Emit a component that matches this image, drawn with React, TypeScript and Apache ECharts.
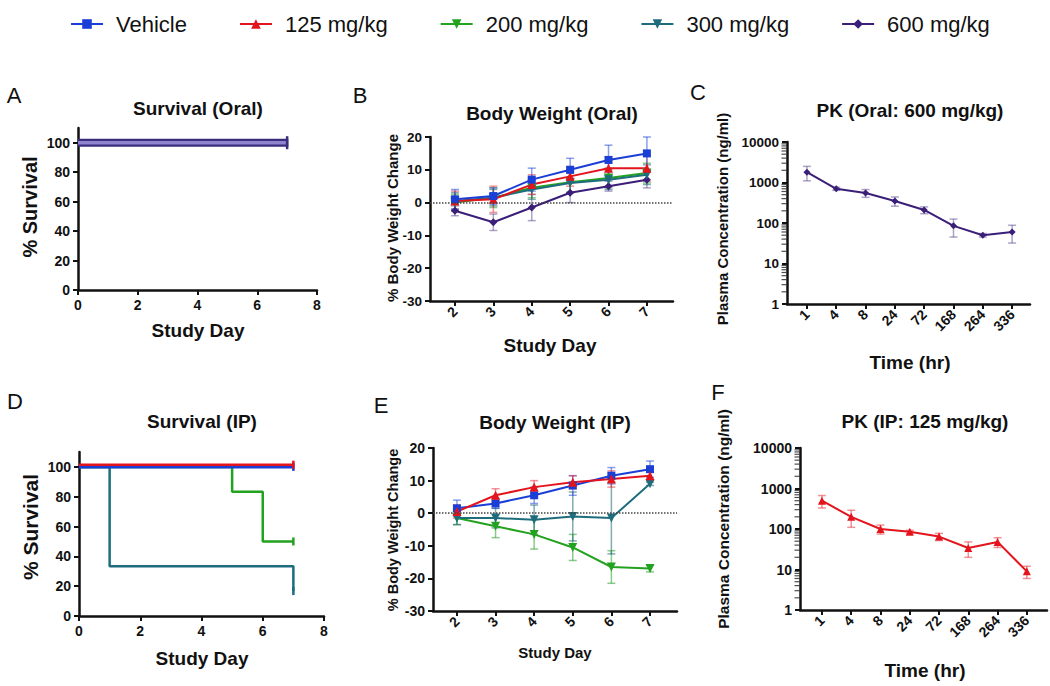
import React, { useEffect, useRef } from "react";
import * as echarts from "echarts";

const FONT = "'Liberation Sans', Arial, Helvetica, sans-serif";

// ---------- categories ----------
const groups = ["Vehicle", "125 mg/kg", "200 mg/kg", "300 mg/kg", "600 mg/kg"];
const groupColors = ["#1b3fd6", "#e3141c", "#22a21f", "#1e6d7d", "#3a1e78"];
const errColors = ["rgba(40,80,220,0.55)", "rgba(230,40,50,0.5)", "rgba(40,160,40,0.55)", "rgba(30,100,115,0.55)", "rgba(70,50,130,0.45)"];
const days = [2, 3, 4, 5, 6, 7];
const times = ["1", "4", "8", "24", "72", "168", "264", "336"];
const survTicks = [0, 20, 40, 60, 80, 100];
const bwTicks = [-30, -20, -10, 0, 10, 20];
const logMinor = [2, 3, 4, 5, 6, 7, 8, 9, 20, 30, 40, 50, 60, 70, 80, 90, 200, 300, 400, 500, 600, 700, 800, 900, 2000, 3000, 4000, 5000, 6000, 7000, 8000, 9000];
const survDayTicks = [0, 2, 4, 6, 8];

// ---------- A: survival (oral) ----------
const survOralDays = [0, 7];
const survOralVehicle = [100, 100];
const survOral125 = [100, 100];
const survOral200 = [100, 100];
const survOral300 = [100, 100];
const survOral600 = [100, 100];

// ---------- B: body weight (oral) ----------
const bwOralVehicle = [1, 2, 7, 10, 13, 15];
const bwOralVehicleErr = [3, 2.5, 3.5, 3.5, 4.5, 5];
const bwOral125 = [0.5, 1, 5.5, 8, 10.5, 10.5];
const bwOral125Err = [3, 4, 3, 3, 3.5, 4];
const bwOral200 = [0, 1.5, 4.5, 6.2, 7.5, 9];
const bwOral200Err = [2.5, 3, 3, 3, 3, 3];
const bwOral300 = [0.5, 1.5, 4, 6, 7, 8.5];
const bwOral300Err = [2.5, 2.5, 3, 3, 3, 3];
const bwOral600 = [-2.5, -6, -1.5, 3, 5, 7];
const bwOral600Err = [1.5, 2.5, 4, 3, 1.5, 2.5];

// ---------- C: PK (oral 600 mg/kg) ----------
const pkOral = [1800, 700, 550, 350, 210, 85, 50, 60];
const pkOralSd = [700, 60, 120, 90, 40, 40, 5, 28];

// ---------- D: survival (IP) ----------
const survIpVehicleDays = [0, 7];
const survIpVehicle = [100, 100];
const survIp125Days = [0, 7];
const survIp125 = [101.5, 101.5];
const survIp200Days = [0, 5, 6, 7];
const survIp200 = [100, 83.3, 50, 50];
const survIp300Days = [0, 1, 7];
const survIp300 = [100, 33.3, 16.7];

// ---------- E: body weight (IP) ----------
const bwIpVehicle = [1.5, 3, 5.5, 8.5, 11.5, 13.5];
const bwIpVehicleErr = [2.5, 1.5, 2.5, 3, 2.5, 2.5];
const bwIp125 = [0.5, 5.5, 8, 9.5, 10.5, 11.5];
const bwIp125Err = [2, 2, 2, 2, 2.5, 1.5];
const bwIp200 = [-1.5, -4, -6.5, -10.5, -16.5, -17];
const bwIp200Err = [2, 3.5, 4.5, 4, 5, 1];
const bwIp300 = [-1.5, -1.5, -2, -1, -1.5, 9];
const bwIp300Err = [2, 3, 4.5, 7.5, 11, 0.5];

// ---------- F: PK (IP 125 mg/kg) ----------
const pkIp = [500, 200, 100, 85, 65, 34, 48, 9];
const pkIpSd = [170, 90, 25, 8, 13, 14, 13, 3];

const zip = (xs: number[], ys: number[]) => xs.map((x, i) => [x, ys[i]]);
const errData = (xs: number[], ys: number[], es: number[]) => xs.map((x, i) => [x, ys[i] - es[i], ys[i] + es[i]]);
const idx = times.map((_, i) => i);

function errSeries(xi: number, yi: number, data: number[][], color: string, capW = 4) {
  return {
    type: "custom",
    xAxisIndex: xi,
    yAxisIndex: yi,
    z: 1,
    silent: true,
    data,
    encode: { x: 0, y: [1, 2] },
    renderItem: (params: any, api: any) => {
      const x = api.value(0);
      const lo = api.value(1);
      const hi = api.value(2);
      const a = api.coord([x, hi]);
      const b = api.coord([x, lo]);
      const st = { stroke: color, lineWidth: 1.5 };
      return {
        type: "group",
        children: [
          { type: "line", shape: { x1: a[0], y1: a[1], x2: b[0], y2: b[1] }, style: st },
          { type: "line", shape: { x1: a[0] - capW, y1: a[1], x2: a[0] + capW, y2: a[1] }, style: st },
          { type: "line", shape: { x1: b[0] - capW, y1: b[1], x2: b[0] + capW, y2: b[1] }, style: st },
        ],
      };
    },
  };
}

// minor ticks of a log axis: tiny marks placed through the axis scale
function minorTickSeries(xi: number, yi: number, xMin: number) {
  return {
    type: "scatter",
    xAxisIndex: xi,
    yAxisIndex: yi,
    z: 10,
    silent: true,
    clip: false,
    data: logMinor.map((v) => [xMin, v]),
    symbol: "rect",
    symbolSize: [5, 1.2],
    symbolOffset: [-3, 0],
    itemStyle: { color: "#222" },
  };
}

const symbols = ["rect", "triangle", "triangle", "triangle", "diamond"];
const symRot = [0, 0, 180, 180, 0];
const symSize = [8, 9, 9, 9, 8];

function lineSeries(g: number, xi: number, yi: number, data: number[][], extra: any = {}) {
  return {
    type: "line",
    name: groups[g],
    xAxisIndex: xi,
    yAxisIndex: yi,
    data,
    symbol: symbols[g],
    symbolRotate: symRot[g],
    symbolSize: symSize[g],
    itemStyle: { color: groupColors[g] },
    lineStyle: { color: groupColors[g], width: 2 },
    z: 3,
    ...extra,
  };
}

function survSeries(g: number, xi: number, yi: number, data: number[][], color: string, width: number, tick: number[], name?: string) {
  const n = data.length;
  return {
    type: "line",
    name: name ?? groups[g],
    xAxisIndex: xi,
    yAxisIndex: yi,
    data,
    step: "end",
    symbol: "rect",
    symbolSize: (_v: any, p: any) => (p.dataIndex === n - 1 ? tick : 0),
    itemStyle: { color },
    lineStyle: { color, width },
    z: 3,
  };
}

const axisBase = (fontSize: number) => ({
  axisLine: { show: true, onZero: false, lineStyle: { color: "#111", width: 2.5 } },
  axisTick: { show: true, length: 5, lineStyle: { color: "#111", width: 2 } },
  axisLabel: { color: "#111", fontWeight: "bold", fontSize, fontFamily: FONT },
  splitLine: { show: false },
});

function mergeAxis(base: any, over: any) {
  return {
    ...base,
    ...over,
    axisLine: { ...base.axisLine, ...(over.axisLine || {}) },
    axisTick: { ...base.axisTick, ...(over.axisTick || {}) },
    axisLabel: { ...base.axisLabel, ...(over.axisLabel || {}) },
  };
}

function txt(text: string, x: number, y: number, size: number, weight = "bold", rot = 0) {
  return {
    type: "text",
    x,
    y,
    rotation: rot,
    silent: true,
    style: {
      text,
      font: `${weight} ${size}px ${FONT}`,
      fill: "#111",
      textAlign: "center",
      textVerticalAlign: "middle",
      align: "center",
      verticalAlign: "middle",
    },
  };
}

export default function App() {
  const ref = useRef<HTMLDivElement>(null);
  useEffect(() => {
    if (!ref.current) return;
    const chart = echarts.init(ref.current, null, { renderer: "svg" });

    const grids = [
      { left: 78, top: 128, width: 239, height: 162 },
      { left: 430, top: 137, width: 243, height: 164 },
      { left: 787, top: 142, width: 243, height: 162 },
      { left: 79, top: 452, width: 245, height: 164 },
      { left: 433, top: 448, width: 244, height: 163 },
      { left: 800, top: 448, width: 247, height: 162 },
    ];

    const cMin = -0.68;
    const fMin = -0.75;
    const xAxes = [
      mergeAxis(axisBase(14), { type: "value", gridIndex: 0, min: 0, max: 8, interval: 2, axisLabel: { customValues: survDayTicks }, axisTick: { customValues: survDayTicks } }),
      mergeAxis(axisBase(14), { type: "value", gridIndex: 1, min: 1.35, max: 7.68, axisLabel: { customValues: days, rotate: 45 }, axisTick: { customValues: days } }),
      mergeAxis(axisBase(14), { type: "value", gridIndex: 2, min: cMin, max: 7.61, axisLabel: { customValues: idx, rotate: 45, formatter: (v: number) => times[Math.round(v)] ?? "" }, axisTick: { customValues: idx } }),
      mergeAxis(axisBase(14), { type: "value", gridIndex: 3, min: 0, max: 8, interval: 2, axisLabel: { customValues: survDayTicks }, axisTick: { customValues: survDayTicks } }),
      mergeAxis(axisBase(14), { type: "value", gridIndex: 4, min: 1.38, max: 7.7, axisLabel: { customValues: days, rotate: 45 }, axisTick: { customValues: days } }),
      mergeAxis(axisBase(14), { type: "value", gridIndex: 5, min: fMin, max: 7.69, axisLabel: { customValues: idx, rotate: 45, formatter: (v: number) => times[Math.round(v)] ?? "" }, axisTick: { customValues: idx } }),
    ];

    const logFmt = (v: number) => String(Math.round(v));
    const yAxes = [
      mergeAxis(axisBase(14), { type: "value", gridIndex: 0, min: 0, max: 110, axisLabel: { customValues: survTicks }, axisTick: { customValues: survTicks } }),
      mergeAxis(axisBase(13.5), { type: "value", gridIndex: 1, min: -30, max: 20, interval: 10, axisLabel: { customValues: bwTicks }, axisTick: { customValues: bwTicks } }),
      mergeAxis(axisBase(13.5), { type: "log", logBase: 10, gridIndex: 2, min: 1, max: 10000, splitNumber: 4, axisLabel: { formatter: logFmt } }),
      mergeAxis(axisBase(14), { type: "value", gridIndex: 3, min: 0, max: 110, axisLabel: { customValues: survTicks }, axisTick: { customValues: survTicks } }),
      mergeAxis(axisBase(14), { type: "value", gridIndex: 4, min: -30, max: 20, interval: 10, axisLabel: { customValues: bwTicks }, axisTick: { customValues: bwTicks } }),
      mergeAxis(axisBase(14), { type: "log", logBase: 10, gridIndex: 5, min: 1, max: 10000, splitNumber: 4, axisLabel: { formatter: logFmt } }),
    ];

    const zeroLine = {
      silent: true,
      symbol: ["none", "none"],
      label: { show: false },
      lineStyle: { type: "dotted", color: "#444", width: 1.5 },
      data: [{ yAxis: 0 }],
    };

    const bwOral = [bwOralVehicle, bwOral125, bwOral200, bwOral300, bwOral600];
    const bwOralErr = [bwOralVehicleErr, bwOral125Err, bwOral200Err, bwOral300Err, bwOral600Err];
    const bwIp = [bwIpVehicle, bwIp125, bwIp200, bwIp300];
    const bwIpErr = [bwIpVehicleErr, bwIp125Err, bwIp200Err, bwIp300Err];

    const series: any[] = [];
    // B (first, so legend icons come from these)
    [4, 2, 3, 1, 0].forEach((g) => {
      series.push(lineSeries(g, 1, 1, zip(days, bwOral[g]), g === 4 ? { markLine: zeroLine } : {}));
    });
    [4, 2, 3, 1, 0].forEach((g) => {
      series.push(errSeries(1, 1, errData(days, bwOral[g], bwOralErr[g]), errColors[g]));
    });
    // E
    [2, 3, 0, 1].forEach((g) => {
      series.push(lineSeries(g, 4, 4, zip(days, bwIp[g]), g === 2 ? { markLine: zeroLine } : {}));
    });
    [2, 3, 0, 1].forEach((g) => {
      series.push(errSeries(4, 4, errData(days, bwIp[g], bwIpErr[g]), errColors[g]));
    });
    // C
    series.push(lineSeries(4, 2, 2, zip(idx, pkOral), { symbolSize: 7 }));
    series.push(errSeries(2, 2, errData(idx, pkOral, pkOralSd), errColors[4]));
    series.push(minorTickSeries(2, 2, cMin));
    // F
    series.push(lineSeries(1, 5, 5, zip(idx, pkIp), { symbolSize: 8 }));
    series.push(errSeries(5, 5, errData(idx, pkIp, pkIpSd), errColors[1]));
    series.push(minorTickSeries(5, 5, fMin));
    // A
    series.push(survSeries(0, 0, 0, zip(survOralDays, survOralVehicle), groupColors[0], 2, [2, 8]));
    series.push(survSeries(1, 0, 0, zip(survOralDays, survOral125), groupColors[1], 2, [2, 8]));
    series.push(survSeries(2, 0, 0, zip(survOralDays, survOral200), groupColors[2], 2, [2, 8]));
    series.push(survSeries(3, 0, 0, zip(survOralDays, survOral300), groupColors[3], 2, [2, 8]));
    series.push(survSeries(4, 0, 0, zip(survOralDays, survOral600), "#3b2c7e", 8, [2.5, 13]));
    series.push(survSeries(4, 0, 0, zip(survOralDays, survOral600), "#8f84cf", 3.5, [0, 0], "600 mg/kg band"));
    // D
    series.push(survSeries(3, 3, 3, zip(survIp300Days, survIp300), groupColors[3], 2.5, [2.5, 8]));
    series.push(survSeries(2, 3, 3, zip(survIp200Days, survIp200), groupColors[2], 2.5, [2.5, 8]));
    series.push(survSeries(0, 3, 3, zip(survIpVehicleDays, survIpVehicle), groupColors[0], 3, [2.5, 8]));
    series.push(survSeries(1, 3, 3, zip(survIp125Days, survIp125), groupColors[1], 2.5, [2.5, 8]));

    const graphic = [
      txt("A", 14, 95, 22, "normal"),
      txt("B", 360, 95, 22, "normal"),
      txt("C", 698, 92, 22, "normal"),
      txt("D", 15, 401, 22, "normal"),
      txt("E", 381, 405, 22, "normal"),
      txt("F", 718, 392, 22, "normal"),
      txt("Survival (Oral)", 198, 108, 19),
      txt("Body Weight (Oral)", 552, 113, 19),
      txt("PK (Oral: 600 mg/kg)", 910, 110, 19),
      txt("Survival (IP)", 202, 421, 19),
      txt("Body Weight (IP)", 555, 422, 19),
      txt("PK (IP: 125 mg/kg)", 925, 421, 19),
      txt("% Survival", 30, 207, 20, "bold", Math.PI / 2),
      txt("% Survival", 30, 527, 21, "bold", Math.PI / 2),
      txt("% Body Weight Change", 392, 218, 15, "bold", Math.PI / 2),
      txt("% Body Weight Change", 393, 530, 14.5, "bold", Math.PI / 2),
      txt("Plasma Concentration (ng/ml)", 722, 219, 15, "bold", Math.PI / 2),
      txt("Plasma Concentration (ng/ml)", 723, 519, 15.5, "bold", Math.PI / 2),
      txt("Study Day", 198, 330, 19),
      txt("Study Day", 550, 345, 19),
      txt("Time (hr)", 910, 362, 19),
      txt("Study Day", 202, 658, 19),
      txt("Study Day", 555, 652, 15),
      txt("Time (hr)", 925, 670, 19),
    ];

    chart.setOption({
      animation: false,
      backgroundColor: "#ffffff",
      textStyle: { fontFamily: FONT },
      legend: {
        data: groups,
        left: 65,
        top: 8,
        itemWidth: 32,
        itemHeight: 12,
        itemGap: 52,
        selectedMode: false,
        textStyle: { fontSize: 22, color: "#111", fontFamily: FONT, padding: [0, 0, 0, 8] },
      },
      grid: grids,
      xAxis: xAxes,
      yAxis: yAxes,
      series,
      graphic,
    });
    return () => chart.dispose();
  }, []);
  return <div ref={ref} style={{ position: "fixed", left: 0, top: 0, width: 1050, height: 686, background: "#fff" }} />;
}
